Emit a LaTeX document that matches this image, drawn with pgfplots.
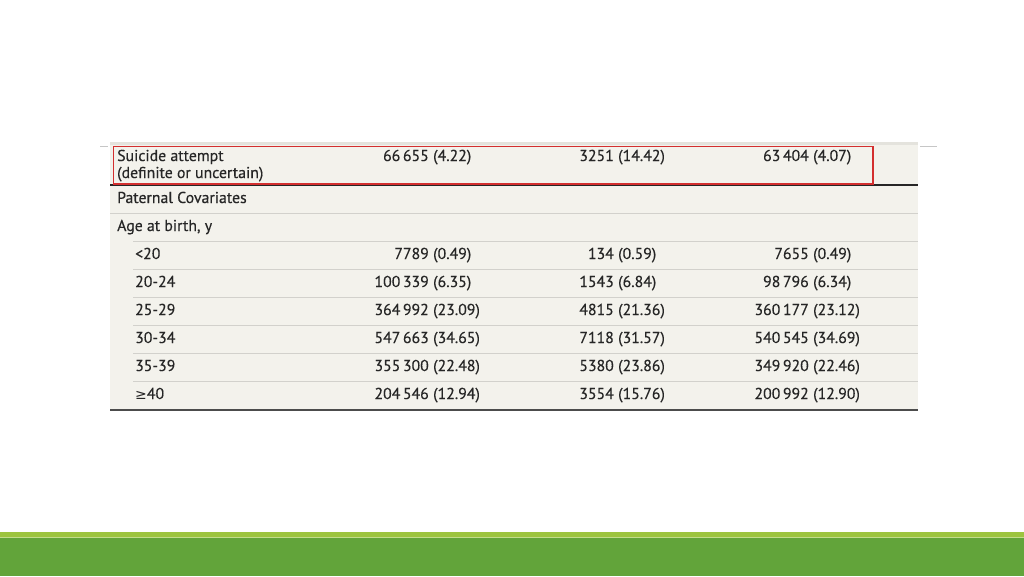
\documentclass[border=0pt]{standalone}
\usepackage{pgfplots}
\pgfplotsset{compat=1.18}
\usepackage{fontspec}
\setmainfont{PT Sans}[FakeBold=0.4]
\newfontfamily\symfont{DejaVu Sans}

\definecolor{tablebg}{HTML}{F3F2EC}
\definecolor{topstrip}{HTML}{E4E3DD}
\definecolor{rowline}{HTML}{D2D1CC}
\definecolor{txt}{HTML}{262626}
\definecolor{boxred}{HTML}{D32F2F}
\definecolor{greenlight}{HTML}{9DC43F}
\definecolor{greendark}{HTML}{62A43A}

\pgfplotsset{
  celltext/.style={draw=none,mark=none,nodes near coords,point meta=explicit symbolic,
    every node near coord/.append style={inner sep=0pt,text=txt,font=\fontsize{15.8}{17}\selectfont,anchor=#1}},
  rule/.style={draw=#1,mark=none,line width=1pt},
}

\begin{document}
\begin{tikzpicture}
\begin{axis}[scale only axis,width=1024pt,height=576pt,
  xmin=0,xmax=1024,ymin=0,ymax=576,y dir=reverse,hide axis,clip=true]

% slide background and footer band
\addplot[fill=white,draw=none] coordinates {(0,0)(1024,0)(1024,576)(0,576)};
\addplot[fill=greenlight,draw=none] coordinates {(0,532)(1024,532)(1024,538)(0,538)};
\addplot[fill=greendark,draw=none] coordinates {(0,538)(1024,538)(1024,576)(0,576)};
\addplot[draw=greenlight!60!white,mark=none,line width=0.8pt] coordinates {(0,537.5)(1024,537.5)};

% slide decoration lines
\addplot[draw=gray!45,mark=none,line width=1pt] coordinates {(100,146)(108,146)};
\addplot[draw=gray!45,mark=none,line width=1pt] coordinates {(920,146)(937,146)};

% table background
\addplot[fill=tablebg,draw=none] coordinates {(110,142)(918,142)(918,409)(110,409)};
\addplot[fill=topstrip,draw=none] coordinates {(110,142)(918,142)(918,144.5)(110,144.5)};

% row rules
\addplot[rule=rowline] coordinates {(110,213)(918,213)};
\addplot[rule=rowline] coordinates {(133,241)(918,241)};
\addplot[rule=rowline] coordinates {(133,269)(918,269)};
\addplot[rule=rowline] coordinates {(133,297)(918,297)};
\addplot[rule=rowline] coordinates {(133,325)(918,325)};
\addplot[rule=rowline] coordinates {(133,353)(918,353)};
\addplot[rule=rowline] coordinates {(133,381)(918,381)};
\addplot[draw=black!85,mark=none,line width=1.3pt] coordinates {(110,185)(918,185)};
\addplot[draw=black!70,mark=none,line width=2pt] coordinates {(110,409.5)(918,409.5)};

% highlight box
\addplot[draw=boxred,mark=none,line width=1.2pt] coordinates {(113.5,146.5)(873,146.5)(873,184)(113.5,184)} -- cycle;

% row labels
\addplot[celltext=base west] coordinates {
  (117,161) [Suicide attempt]
  (117,178) [(definite or uncertain)]
  (117,203) [Paternal Covariates]
  (117,231) [Age at birth, y]
  (135,259) [<20]
  (135,287) [20-24]
  (135,315) [25-29]
  (135,343) [30-34]
  (135,371) [35-39]
  (135,399) [{\symfont\fontsize{14}{17}\selectfont ≥}40]
};

% column 1: counts and percentages
\addplot[celltext=base east] coordinates {
  (429,161) [66\,655] (429,259) [7789] (429,287) [100\,339] (429,315) [364\,992]
  (429,343) [547\,663] (429,371) [355\,300] (429,399) [204\,546]
};
\addplot[celltext=base west] coordinates {
  (433,161) [(4.22)] (433,259) [(0.49)] (433,287) [(6.35)] (433,315) [(23.09)]
  (433,343) [(34.65)] (433,371) [(22.48)] (433,399) [(12.94)]
};

% column 2
\addplot[celltext=base east] coordinates {
  (614,161) [3251] (614,259) [134] (614,287) [1543] (614,315) [4815]
  (614,343) [7118] (614,371) [5380] (614,399) [3554]
};
\addplot[celltext=base west] coordinates {
  (618,161) [(14.42)] (618,259) [(0.59)] (618,287) [(6.84)] (618,315) [(21.36)]
  (618,343) [(31.57)] (618,371) [(23.86)] (618,399) [(15.76)]
};

% column 3
\addplot[celltext=base east] coordinates {
  (809,161) [63\,404] (809,259) [7655] (809,287) [98\,796] (809,315) [360\,177]
  (809,343) [540\,545] (809,371) [349\,920] (809,399) [200\,992]
};
\addplot[celltext=base west] coordinates {
  (813,161) [(4.07)] (813,259) [(0.49)] (813,287) [(6.34)] (813,315) [(23.12)]
  (813,343) [(34.69)] (813,371) [(22.46)] (813,399) [(12.90)]
};
\end{axis}
\end{tikzpicture}
\end{document}
